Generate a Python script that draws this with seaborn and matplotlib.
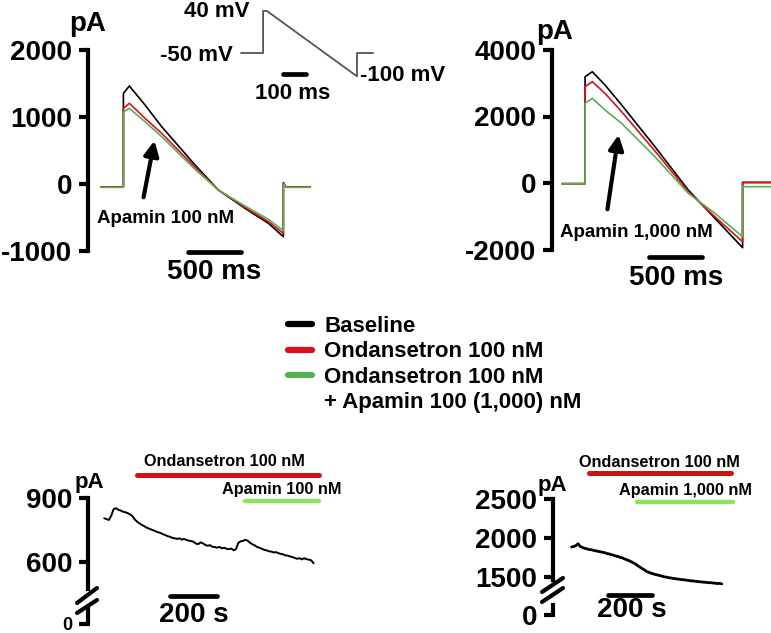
import numpy as np
import matplotlib
matplotlib.use("Agg")
import matplotlib.pyplot as plt
import seaborn as sns
from matplotlib.lines import Line2D
from matplotlib.transforms import Affine2D

# ramp currents, 100 nM apamin cell (ms, pA)
t_a = [0, 211, 211, 267, 415, 572, 887, 1107, 1358, 1579, 1720, 1720, 1745, 1972]
a_base = [-45, -45, 1356, 1465, 1181, 857, 284, -90, -364, -588, -787, 20, -45, -45]
a_ond = [-45, -45, 1131, 1206, 982, 757, 250, -90, -349, -563, -738, 10, -45, -45]
a_apa = [-50, -50, 1072, 1131, 931, 707, 219, -90, -329, -528, -698, 0, -50, -50]

# ramp currents, 1,000 nM apamin cell (ms, pA)
t_b = [0, 218, 218, 286, 406, 563, 877, 1192, 1443, 1704, 1704, 1972]
b_base = [-20, -20, 3197, 3347, 2947, 2346, 1092, -211, -1062, -1946, 20, 20]
b_ond = [-20, -20, 2896, 3047, 2697, 2144, 962, -262, -1014, -1765, 10, 10]
b_apa = [-20, -20, 2397, 2547, 2195, 1795, 791, -310, -911, -1615, -111, -111]

# voltage protocol (ms, mV)
prot_t = [0, 96, 96, 113, 504, 504, 574]
prot_mv = [-50, -50, 40, 40, -100, -50, -50]

# time courses at +40 mV (one sample per 10 s)
tc_left = [805, 801, 797, 818, 848, 852, 845, 841, 836, 833,
           829, 823, 815, 799, 789, 781, 774, 768, 761, 757,
           752, 748, 743, 739, 736, 730, 726, 721, 718, 713,
           711, 708, 711, 705, 708, 703, 700, 698, 695, 686,
           684, 692, 687, 680, 676, 679, 671, 670, 667, 671,
           664, 667, 662, 660, 663, 655, 660, 689, 697, 699,
           704, 700, 690, 683, 678, 670, 667, 662, 657, 655,
           650, 649, 645, 646, 642, 638, 636, 631, 630, 626,
           623, 619, 615, 618, 612, 618, 613, 611, 608, 594]
tc_right = [1885, 1891, 1904, 1926, 1889, 1879, 1867, 1861, 1851, 1850,
            1841, 1836, 1829, 1823, 1817, 1812, 1801, 1796, 1787, 1779,
            1769, 1763, 1751, 1745, 1731, 1721, 1709, 1696, 1681, 1666,
            1644, 1626, 1607, 1591, 1571, 1559, 1549, 1541, 1531, 1526,
            1517, 1511, 1501, 1499, 1491, 1488, 1481, 1479, 1473, 1471,
            1466, 1464, 1459, 1456, 1451, 1450, 1445, 1443, 1438, 1437,
            1433, 1431, 1427, 1427, 1423, 1421, 1415, 1419, 1411]
dt = 10

labels = ["Baseline", "Ondansetron 100 nM", "Ondansetron 100 nM"]
colors = ["black", "#e0101a", "#55b055"]
bar_red, bar_green = "#d01212", "#8ee35e"

sns.set_style("white")
plt.rcParams["font.family"] = ["Liberation Sans", "DejaVu Sans"]
plt.rcParams["font.weight"] = "bold"
for k in ["text.color", "axes.labelcolor", "xtick.color", "ytick.color", "axes.edgecolor"]:
    plt.rcParams[k] = "black"

W, H = 771, 633
fig = plt.figure(figsize=(W / 100, H / 100), dpi=100)
px = Affine2D().scale(1 / W, -1 / H).translate(0, 1) + fig.transFigure


def box(x0, y0, x1, y1):
    return [x0 / W, 1 - y1 / H, (x1 - x0) / W, (y1 - y0) / H]


def axe(rect, xlim, ylim, ticks, ticklabels, fs=20):
    ax = fig.add_axes(rect)
    ax.patch.set_visible(False)
    for s in ["top", "right", "bottom"]:
        ax.spines[s].set_visible(False)
    ax.spines["left"].set_linewidth(3)
    ax.set_xlim(xlim)
    ax.set_ylim(ylim)
    ax.set_xticks([])
    ax.set_yticks(ticks, ticklabels)
    ax.tick_params(axis="y", length=6.5, width=3, pad=5, labelsize=fs, left=True)
    return ax


def unclip(ax):
    for ln in ax.get_lines():
        ln.set_clip_on(False)
    ax.set_xlabel("")
    ax.set_ylabel("")


def traces(ax, t, series):
    for y, c in zip(series, colors):
        sns.lineplot(x=t, y=y, ax=ax, color=c, linewidth=1.2,
                     estimator=None, sort=False, legend=False)
    unclip(ax)


# ---- top left
ax1 = axe(box(88, 50.2, 330, 250.9), (-123, 2160), (-1000, 2000),
          [-1000, 0, 1000, 2000], ["-1000", "0", "1000", "2000"])
traces(ax1, t_a, [a_base, a_ond, a_apa])
ax1.annotate("", xy=(509, 688), xytext=(396, -239),
             arrowprops=dict(arrowstyle="-|>", lw=3, color="k", mutation_scale=22))
ax1.text(613, -523, "Apamin 100 nM", ha="center", va="center", fontsize=13.5)
ax1.plot([821, 1321], [-1016, -1016], color="k", lw=3.4, clip_on=False)
ax1.text(1066, -1315, "500 ms", ha="center", va="center", fontsize=20)
ax1.text(-123, 2392, "pA", ha="center", va="center", fontsize=20)

# ---- voltage protocol inset
axv = fig.add_axes(box(241, 5, 380, 85))
axv.axis("off")
axv.set_xlim(0, 604)
axv.set_ylim(-118.6, 52.9)
sns.lineplot(x=prot_t, y=prot_mv, ax=axv, color="#555555", linewidth=1.3,
             estimator=None, sort=False)
unclip(axv)
axv.text(39, 38, "40 mV", ha="right", va="center", fontsize=16)
axv.text(-35, -56, "-50 mV", ha="right", va="center", fontsize=16)
axv.text(517, -99, "-100 mV", ha="left", va="center", fontsize=16)
axv.plot([183, 283], [-95, -95], color="k", lw=3.4, clip_on=False)
axv.text(226, -136, "100 ms", ha="center", va="center", fontsize=16)

# ---- top right
ax2 = axe(box(552, 50, 771, 249.5), (-94, 1972), (-2000, 4000),
          [-2000, 0, 2000, 4000], ["-2000", "0", "2000", "4000"])
traces(ax2, t_b, [b_base, b_ond, b_apa])
ax2.annotate("", xy=(538, 1534), xytext=(425, -872),
             arrowprops=dict(arrowstyle="-|>", lw=3, color="k", mutation_scale=22))
ax2.text(698, -1474, "Apamin 1,000 nM", ha="center", va="center", fontsize=13.5)
ax2.plot([821, 1321], [-2226, -2226], color="k", lw=3.4, clip_on=False)
ax2.text(1075, -2857, "500 ms", ha="center", va="center", fontsize=20)
ax2.text(-66, 4541, "pA", ha="center", va="center", fontsize=20)

# ---- legend
handles = [Line2D([], [], color=c, lw=4.5) for c in colors]
handles.append(Line2D([], [], color="none"))
fig.legend(handles, labels + ["+ Apamin 100 (1,000) nM"],
           loc="upper left", bbox_to_anchor=(288 / W, 1 - 316 / H),
           frameon=False, fontsize=16, handlelength=1.08, handletextpad=0.54,
           labelspacing=0.2, borderpad=0, borderaxespad=0)

# ---- bottom left time course
t_l = np.arange(len(tc_left)) * dt
ax3 = axe(box(88, 498, 330, 589), (-69, 960), (473.4, 900), [600, 900], ["600", "900"])
sns.lineplot(x=t_l, y=tc_left, ax=ax3, color="k", linewidth=1.4, estimator=None)
unclip(ax3)
ax3.plot([139, 913], [1008, 1008], color=bar_red, lw=3.6, clip_on=False)
ax3.plot([599, 913], [887, 887], color=bar_green, lw=3.2, clip_on=False)
ax3.text(511, 1069, "Ondansetron 100 nM", ha="center", va="center", fontsize=11.7)
ax3.text(756, 942, "Apamin 100 nM", ha="center", va="center", fontsize=11.7)
ax3.plot([280, 480], [441, 441], color="k", lw=3.4, clip_on=False)
ax3.text(383, 351, "200 s", ha="center", va="center", fontsize=20)
ax3.text(-65, 975, "pA", ha="center", va="center", fontsize=16)
ax3s = axe(box(88, 607, 98, 624), (0, 1), (0, 1), [0], ["0"], fs=13)
for y0, y1 in [(603, 588), (613, 600)]:
    fig.add_artist(Line2D([77, 97], [y0, y1], transform=px, color="k", lw=3))

# ---- bottom right time course
t_r = np.arange(len(tc_right)) * dt
ax4 = axe(box(553, 499, 771, 580), (-84, 903), (1461.5, 2500),
          [1500, 2000, 2500], ["1500", "2000", "2500"])
sns.lineplot(x=t_r, y=tc_right, ax=ax4, color="k", linewidth=2, estimator=None)
unclip(ax4)
ax4.plot([78, 720], [2833, 2833], color=bar_red, lw=3.6, clip_on=False)
ax4.plot([295, 730], [2462, 2462], color=bar_green, lw=3.2, clip_on=False)
ax4.text(397, 2962, "Ondansetron 100 nM", ha="center", va="center", fontsize=11.7)
ax4.text(516, 2615, "Apamin 1,000 nM", ha="center", va="center", fontsize=11.7)
ax4.plot([163, 363], [1269, 1269], color="k", lw=3.4, clip_on=False)
ax4.text(274, 1077, "200 s", ha="center", va="center", fontsize=20)
ax4.text(-88, 2679, "pA", ha="center", va="center", fontsize=16)
ax4s = axe(box(553, 605, 563, 615), (0, 1), (0, 1), [0], ["0"])
for y0, y1 in [(592, 578), (602, 588)]:
    fig.add_artist(Line2D([542, 563], [y0, y1], transform=px, color="k", lw=3))

fig.savefig("out.png", dpi=100)
